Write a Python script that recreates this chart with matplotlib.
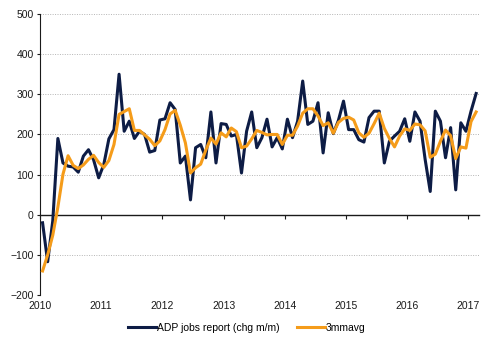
import numpy as np
import matplotlib
matplotlib.use('Agg')
import matplotlib.pyplot as plt

plt.rcParams['font.family'] = ['Liberation Sans', 'DejaVu Sans']

# Monthly values, Jan 2010 - Feb 2017
adp = [-20, -117, -15, 190, 129, 121, 119, 106, 146, 162, 137, 92,
       125, 189, 212, 350, 208, 233, 190, 208, 200, 156, 160, 236,
       239, 279, 262, 129, 146, 37, 167, 175, 142, 256, 129, 227,
       225, 196, 200, 104, 208, 256, 167, 192, 238, 169, 192, 164,
       238, 192, 233, 333, 225, 233, 279, 154, 254, 202, 235, 283,
       212, 212, 187, 181, 242, 258, 258, 129, 183, 196, 208, 239,
       183, 256, 233, 138, 58, 258, 233, 142, 217, 62, 229, 208,
       258, 302]
avg3 = [-140, -100, -51, 19, 101, 147, 123, 115, 124, 138, 148, 130,
        118, 135, 175, 250, 257, 264, 210, 210, 199, 188, 172, 184,
        212, 251, 260, 223, 179, 104, 117, 126, 161, 191, 176, 204,
        194, 216, 207, 167, 171, 189, 210, 205, 199, 200, 200, 175,
        198, 198, 221, 253, 264, 264, 246, 222, 229, 203, 230, 240,
        243, 236, 204, 193, 203, 227, 253, 215, 190, 169, 196, 214,
        210, 226, 224, 209, 143, 151, 183, 211, 197, 140, 169, 166,
        232, 256]
years = ['2010', '2011', '2012', '2013', '2014', '2015', '2016', '2017']

navy = '#0d1c45'
orange = '#f59c1a'

x = np.arange(len(adp)) + 0.5

fig = plt.figure(figsize=(4.94, 3.5), dpi=100)
ax = fig.add_axes([0.081, 0.157, 0.888, 0.803])

ax.plot(x, adp, color=navy, linewidth=2.2, label='ADP jobs report (chg m/m)', zorder=3)
ax.plot(x, avg3, color=orange, linewidth=2.2, label='3mmavg', zorder=4)

ax.set_xlim(0, len(adp))
ax.set_ylim(-200, 500)
ax.set_yticks(range(-200, 501, 100))
ax.set_xticks(np.arange(len(years)) * 12)
ax.set_xticklabels(years)

ax.yaxis.grid(True, linestyle=(0, (1, 1.5)), color='#b5b5b5', linewidth=0.7)
ax.set_axisbelow(True)

for s in ['top', 'right']:
    ax.spines[s].set_visible(False)
ax.spines['bottom'].set_position(('data', 0))
ax.spines['bottom'].set_color('#1a1a1a')
ax.spines['left'].set_color('#1a1a1a')
ax.spines['bottom'].set_linewidth(1.0)
ax.spines['left'].set_linewidth(0.8)

ax.tick_params(axis='x', direction='out', length=3, width=0.8, pad=59,
               labelsize=7.5, colors='#1a1a1a')
ax.tick_params(axis='y', direction='out', length=2.5, width=0.8, pad=2,
               labelsize=7.5, colors='#1a1a1a')

fig.legend(loc='center', bbox_to_anchor=(0.5, 0.063), ncol=2, frameon=False,
           fontsize=7.5, handlelength=2.7, handletextpad=0.1, columnspacing=1.6)

fig.savefig('out.png', dpi=100)
plt.close(fig)
